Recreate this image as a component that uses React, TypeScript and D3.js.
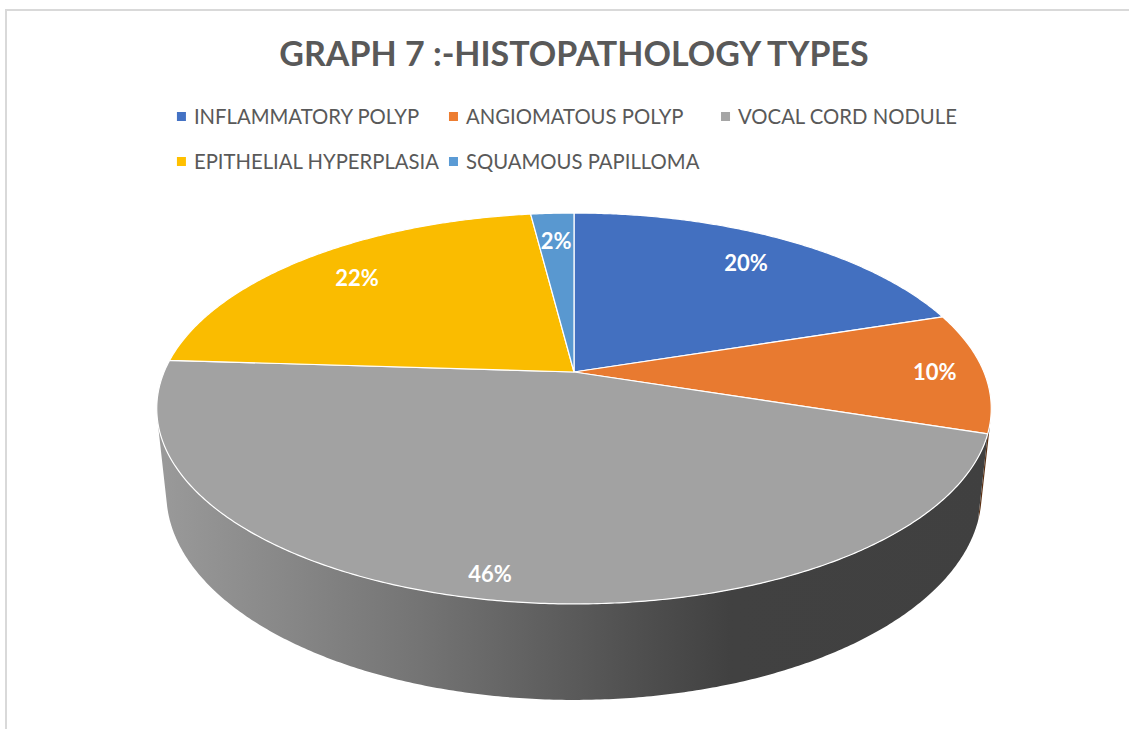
import React, { useEffect, useRef } from "react";
import * as d3 from "d3";

// chart values
const categories = [
  "INFLAMMATORY POLYP",
  "ANGIOMATOUS POLYP",
  "VOCAL CORD NODULE",
  "EPITHELIAL HYPERPLASIA",
  "SQUAMOUS PAPILLOMA",
];
const counts = [10, 5, 23, 11, 1];
const colors = ["#4472C4", "#ED7D31", "#A5A5A5", "#FFC000", "#5B9BD5"];
const title = "GRAPH 7 :-HISTOPATHOLOGY TYPES";

// where each data label sits, as a share of the radius
const labelRadius = [0.8, 0.88, 0.91, 0.8, 0.8];

const W = 1129;
const H = 729;

// 3d view of the pie
const cx = 574;
const cy = 372;
const tilt = (27.4 * Math.PI) / 180;
const camDist = 4.757;
const focal = 1950;
const depth = 0.235;

function project(a: number, r: number, z: number): [number, number] {
  const s = Math.sin(tilt);
  const c = Math.cos(tilt);
  const X = r * Math.sin(a);
  const Y = -r * Math.cos(a);
  const yc = -Y * s + z * c;
  const d = camDist - (Y * c + z * s);
  return [cx + (focal * X) / d, cy - (focal * yc) / d];
}

function arcPoints(a0: number, a1: number, z: number) {
  const n = Math.max(2, Math.ceil((a1 - a0) / (Math.PI / 360)));
  return d3.range(n + 1).map((i) => project(a0 + ((a1 - a0) * i) / n, 1, z));
}

export default function App() {
  const ref = useRef<SVGSVGElement>(null);

  useEffect(() => {
    const svg = d3.select(ref.current);
    svg.selectAll("*").remove();

    const total = d3.sum(counts);
    const pct = d3.format(".0%");
    const line = d3.line();

    svg
      .append("rect")
      .attr("x", 6)
      .attr("y", 10)
      .attr("width", W + 20)
      .attr("height", H + 20)
      .attr("fill", "#fff")
      .attr("stroke", "#d9d9d9")
      .attr("stroke-width", 2);

    svg
      .append("text")
      .attr("x", cx)
      .attr("y", 66)
      .attr("text-anchor", "middle")
      .attr("font-family", "Lato, 'Open Sans', sans-serif")
      .attr("font-weight", "bold")
      .attr("font-size", 34)
      .attr("fill", "#595959")
      .text(title);

    // legend, laid out in equal columns
    const legend = svg
      .append("g")
      .attr("font-family", "Lato, 'Open Sans', sans-serif")
      .attr("font-size", 20.3)
      .attr("fill", "#595959");
    const items = legend
      .selectAll("g")
      .data(categories)
      .join("g");
    items
      .append("rect")
      .attr("width", 9)
      .attr("height", 9)
      .attr("y", -5)
      .attr("fill", (d, i) => colors[i]);
    items
      .append("text")
      .attr("x", 17)
      .attr("dy", "0.36em")
      .text((d) => d);
    const widths = items
      .select("text")
      .nodes()
      .map((n: any) => n.getComputedTextLength());
    const nCols = 3;
    const colW = (d3.max(widths) as number) + 17 + 10;
    const legendW = nCols * colW - 12;
    const x0 = cx + 5 - legendW / 2;
    const rowY = [117, 162];
    items.attr(
      "transform",
      (d, i) => `translate(${x0 + (i % nCols) * colW},${rowY[Math.floor(i / nCols)]})`
    );

    const arcs = d3.pie<number>().sort(null).startAngle(0).endAngle(2 * Math.PI)(counts);

    // side wall, only the front part can be seen
    const visLo = Math.acos(-1 / (camDist * Math.cos(tilt)));
    const visHi = 2 * Math.PI - visLo;
    const defs = svg.append("defs");
    const shade = [
      [0, 0.21],
      [0.305, 0.99],
      [0.569, 2.06],
      [0.677, 2.6],
      [1, 2.65],
    ];
    arcs.forEach((a, i) => {
      const g = defs
        .append("linearGradient")
        .attr("id", `wall${i}`)
        .attr("gradientUnits", "userSpaceOnUse")
        .attr("x1", 165)
        .attr("x2", 1000)
        .attr("y1", 0)
        .attr("y2", 0);
      shade.forEach(([o, k]) => {
        g.append("stop")
          .attr("offset", o)
          .attr("stop-color", d3.color(colors[i])!.darker(k).formatHex());
      });
    });

    const walls = svg.append("g");
    arcs.forEach((a, i) => {
      const lo = Math.max(a.startAngle, visLo);
      const hi = Math.min(a.endAngle, visHi);
      if (hi <= lo) return;
      const pts = arcPoints(lo, hi, 0).concat(arcPoints(lo, hi, -depth).reverse());
      walls
        .append("path")
        .attr("d", line(pts) + "Z")
        .attr("fill", `url(#wall${i})`);
    });

    // top face
    svg
      .append("g")
      .selectAll("path")
      .data(arcs)
      .join("path")
      .attr("d", (a) => line([project(0, 0, 0), ...arcPoints(a.startAngle, a.endAngle, 0)]) + "Z")
      .attr("fill", (a, i) => d3.color(colors[i])!.darker(0.06).formatHex())
      .attr("stroke", "#fff")
      .attr("stroke-width", 1.2)
      .attr("stroke-linejoin", "round");

    // data labels
    svg
      .append("g")
      .selectAll("text")
      .data(arcs)
      .join("text")
      .attr("transform", (a, i) => {
        const [x, y] = project((a.startAngle + a.endAngle) / 2, labelRadius[i], 0);
        return `translate(${x},${y})`;
      })
      .attr("text-anchor", "middle")
      .attr("dy", "0.36em")
      .attr("font-family", "Lato, 'Open Sans', sans-serif")
      .attr("font-weight", "bold")
      .attr("font-size", 22)
      .attr("fill", "#fff")
      .text((a) => pct(a.value / total));
  }, []);

  return (
    <svg
      ref={ref}
      width={W}
      height={H}
      style={{ position: "absolute", left: 0, top: 0, background: "#fff" }}
    />
  );
}
